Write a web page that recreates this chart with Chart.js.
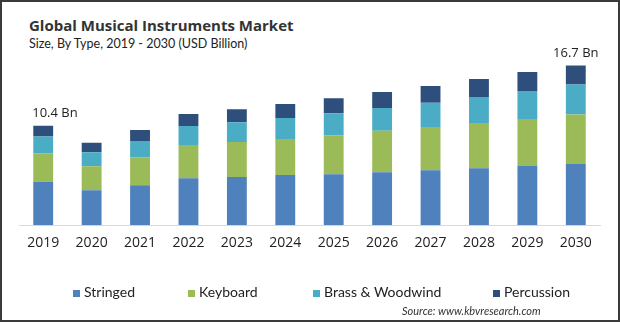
<!DOCTYPE html>
<html>
<head>
<meta charset="utf-8">
<script src="https://cdn.jsdelivr.net/npm/chart.js@4"></script>
<style>
  html, body { margin: 0; padding: 0; background: #fff; }
  #wrap {
    position: relative; width: 620px; height: 322px; box-sizing: border-box;
    border: 2px solid #3a3a3a; font-family: "Open Sans", sans-serif; overflow: hidden;
  }
  #title { position: absolute; left: 27px; top: 13px; font-size: 15px; font-weight: bold; color: #333; }
  #subtitle { position: absolute; left: 27px; top: 34px; font-family: Lato, sans-serif; font-size: 12.5px; color: #222; }
  .legend-item {
    position: absolute; top: 281px; font-family: Lato, sans-serif; font-size: 14px; color: #222; white-space: nowrap;
  }
  .legend-item span.box { display: inline-block; width: 7px; height: 7px; margin-right: 4px; }
  #source {
    position: absolute; left: 400px; top: 302px; font-family: Lato, sans-serif;
    font-size: 11px; font-style: italic; color: #333;
  }
  canvas { position: absolute; left: -2px; top: -2px; }
</style>
</head>
<body>
<div id="wrap">
  <div id="title">Global Musical Instruments Market</div>
  <div id="subtitle">Size, By Type, 2019 - 2030 (USD Billion)</div>
  <canvas id="canvasMarket" width="620" height="322"></canvas>
  <div id="source">Source: www.kbvresearch.com</div>
</div>
<script>
// years on the x axis
var years = ["2019", "2020", "2021", "2022", "2023", "2024", "2025", "2026", "2027", "2028", "2029", "2030"];

// values in USD billion
var stringed = [4.55, 3.66, 4.19, 4.92, 5.03, 5.24, 5.34, 5.55, 5.76, 5.97, 6.18, 6.39];
var keyboard = [2.98, 2.51, 2.93, 3.46, 3.66, 3.77, 4.08, 4.32, 4.50, 4.71, 4.92, 5.20];
var brassWoodwind = [1.74, 1.47, 1.68, 1.99, 2.09, 2.20, 2.30, 2.38, 2.55, 2.72, 2.93, 3.13];
var percussion = [1.13, 0.98, 1.15, 1.26, 1.36, 1.47, 1.57, 1.68, 1.75, 1.88, 1.99, 1.98];

// labels shown above the first and last bar
var totalLabels = ["10.4 Bn", "", "", "", "", "", "", "", "", "", "", "16.7 Bn"];

var seriesNames = ["Stringed", "Keyboard", "Brass & Woodwind", "Percussion"];
var seriesColors = ["#4f81bd", "#9bbb59", "#4bacc6", "#2e4f7b"];
// left edge of each legend entry
var legendLeft = [71, 186, 311, 491];

var fontFamily = "'Open Sans', sans-serif";

// draws the total label above a bar
var totalsPlugin = {
  id: "totals",
  afterDatasetsDraw: function(chart) {
    var ctx = chart.ctx;
    var yScale = chart.scales.y;
    var xScale = chart.scales.x;
    ctx.save();
    ctx.font = "13px " + fontFamily;
    ctx.fillStyle = "#222";
    ctx.textBaseline = "alphabetic";
    for (var i = 0; i < years.length; i++) {
      if (!totalLabels[i]) continue;
      var total = stringed[i] + keyboard[i] + brassWoodwind[i] + percussion[i];
      var x = xScale.getPixelForValue(i);
      // first label sits flush with the bar's left edge, the others are centred
      if (i == 0) {
        ctx.textAlign = "left";
        x = x - 11;
      } else {
        ctx.textAlign = "center";
      }
      ctx.fillText(totalLabels[i], x, yScale.getPixelForValue(total) - 9);
    }
    ctx.restore();
  }
};

var datasets = [stringed, keyboard, brassWoodwind, percussion].map(function(values, i) {
  return {
    label: seriesNames[i],
    data: values,
    backgroundColor: seriesColors[i],
    borderWidth: 0,
    barPercentage: 0.41,
    categoryPercentage: 1.0
  };
});

var marketChart = new Chart(document.getElementById("canvasMarket"), {
  type: "bar",
  data: { labels: years, datasets: datasets },
  options: {
    responsive: false,
    animation: false,
    layout: { padding: { top: 34, left: 19, right: 20, bottom: 62 } },
    plugins: {
      legend: { display: false },
      tooltip: { enabled: false }
    },
    scales: {
      x: {
        stacked: true,
        grid: { display: false, drawTicks: false },
        border: { display: true, color: "#d9d9d9", width: 1 },
        ticks: { color: "#222", font: { family: fontFamily, size: 14 }, padding: 9 }
      },
      y: {
        stacked: true,
        display: false,
        min: 0,
        max: 20
      }
    }
  },
  plugins: [totalsPlugin]
});

// legend built from the same names and colours
var wrap = document.getElementById("wrap");
for (var i = 0; i < seriesNames.length; i++) {
  var item = document.createElement("div");
  item.className = "legend-item";
  item.style.left = legendLeft[i] + "px";
  var box = document.createElement("span");
  box.className = "box";
  box.style.background = seriesColors[i];
  item.appendChild(box);
  item.appendChild(document.createTextNode(seriesNames[i]));
  wrap.appendChild(item);
}
</script>
</body>
</html>
